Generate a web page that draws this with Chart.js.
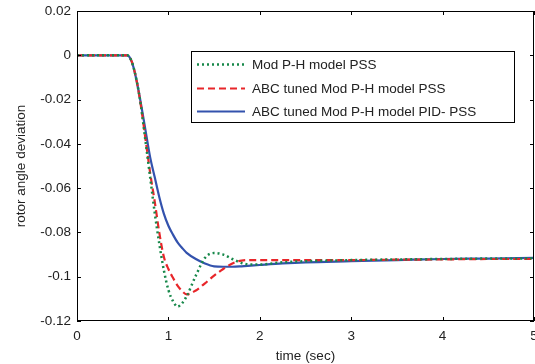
<!DOCTYPE html>
<html>
<head>
<meta charset="utf-8">
<script src="https://cdn.jsdelivr.net/npm/chart.js@4.4.1/dist/chart.umd.min.js"></script>
<style>
  html, body { margin: 0; padding: 0; background: #fff; }
  #wrap { width: 535px; height: 364px; }
</style>
</head>
<body>
<div id="wrap"><canvas id="c" width="535" height="364"></canvas></div>
<script>
// time axis (sec)
const timeSec = [0, 0.5, 0.55, 0.6, 0.65, 0.7, 0.75, 0.8, 0.85, 0.9, 0.95, 1.0, 1.05, 1.1, 1.15, 1.2,
  1.3, 1.4, 1.5, 1.6, 1.7, 1.8, 1.9, 2.0, 2.25, 2.5, 3, 3.5, 4, 4.5, 5];

// Mod P-H model PSS
const modPH = [0, 0, 0, -0.003, -0.011, -0.023, -0.039, -0.055, -0.071, -0.085, -0.097, -0.106, -0.111, -0.1135, -0.112, -0.1088,
  -0.0995, -0.0915, -0.0893, -0.09, -0.092, -0.0938, -0.0945, -0.0945, -0.0935, -0.093, -0.0925, -0.0922, -0.092, -0.0918, -0.0917];

// ABC tuned Mod P-H model PSS
const abcPH = [0, 0, 0, -0.003, -0.011, -0.023, -0.038, -0.053, -0.066, -0.08, -0.091, -0.0965, -0.1005, -0.104, -0.1065, -0.108,
  -0.1062, -0.103, -0.0995, -0.0965, -0.094, -0.0927, -0.0925, -0.0925, -0.0925, -0.0925, -0.0925, -0.0923, -0.0922, -0.092, -0.092];

// ABC tuned Mod P-H model PID- PSS
const abcPID = [0, 0, 0, -0.003, -0.011, -0.022, -0.034, -0.046, -0.055, -0.064, -0.0715, -0.077, -0.081, -0.0845, -0.087, -0.0892,
  -0.092, -0.094, -0.0953, -0.0955, -0.0955, -0.0953, -0.095, -0.0947, -0.094, -0.0935, -0.093, -0.0925, -0.092, -0.0918, -0.0915];

const seriesLabels = ['Mod P-H model PSS', 'ABC tuned Mod P-H model PSS', 'ABC tuned Mod P-H model PID- PSS'];

const FONT = '"Liberation Sans", Arial, sans-serif';

function pts(vals) {
  return timeSec.map((t, i) => ({ x: t, y: vals[i] }));
}

// matlab style box, inward ticks and legend
const matlabFrame = {
  id: 'matlabFrame',
  afterDatasetsDraw(chart) {
    const ctx = chart.ctx;
    const a = chart.chartArea;
    const xs = chart.scales.x, ys = chart.scales.y;
    ctx.save();
    ctx.strokeStyle = '#000';
    ctx.lineWidth = 1;
    ctx.beginPath();
    xs.ticks.forEach(t => {
      const px = Math.round(xs.getPixelForValue(t.value)) + 0.5;
      ctx.moveTo(px, a.bottom); ctx.lineTo(px, a.bottom - 4);
      ctx.moveTo(px, a.top); ctx.lineTo(px, a.top + 4);
    });
    ys.ticks.forEach(t => {
      const py = Math.round(ys.getPixelForValue(t.value)) + 0.5;
      ctx.moveTo(a.left, py); ctx.lineTo(a.left + 4, py);
      ctx.moveTo(a.right, py); ctx.lineTo(a.right - 4, py);
    });
    ctx.stroke();
    ctx.strokeRect(Math.round(a.left) + 0.5, Math.round(a.top) + 0.5,
      Math.round(a.right - a.left) - 1, Math.round(a.bottom - a.top) - 1);

    // legend
    const bx = 191, by = 51, bw = 323, bh = 71;
    ctx.fillStyle = '#fff';
    ctx.fillRect(bx, by, bw, bh);
    ctx.strokeRect(bx + 0.5, by + 0.5, bw, bh);
    ctx.font = '13.5px ' + FONT;
    ctx.textBaseline = 'middle';
    const rows = [64, 88, 111];
    chart.data.datasets.forEach((ds, i) => {
      const y = rows[i] + 0.5;
      ctx.strokeStyle = ds.borderColor;
      ctx.lineWidth = ds.borderWidth;
      ctx.setLineDash(ds.borderDash || []);
      ctx.beginPath();
      ctx.moveTo(197, y); ctx.lineTo(245, y);
      ctx.stroke();
      ctx.setLineDash([]);
      ctx.fillStyle = '#222';
      ctx.fillText(ds.label, 252, rows[i] + 1);
    });
    ctx.restore();
  }
};

new Chart(document.getElementById('c'), {
  type: 'line',
  data: {
    datasets: [
      { label: seriesLabels[0], data: pts(modPH), borderColor: '#17884a', borderWidth: 2.5, borderDash: [2, 3] },
      { label: seriesLabels[1], data: pts(abcPH), borderColor: '#e8262a', borderWidth: 2.2, borderDash: [7, 4] },
      { label: seriesLabels[2], data: pts(abcPID), borderColor: '#3352ad', borderWidth: 2.2 }
    ]
  },
  options: {
    responsive: false,
    animation: false,
    layout: { padding: { top: 11, right: 1, left: 0, bottom: 0 } },
    elements: {
      point: { radius: 0 },
      line: { cubicInterpolationMode: 'monotone', fill: false }
    },
    plugins: {
      legend: { display: false },
      tooltip: { enabled: false }
    },
    scales: {
      x: {
        type: 'linear',
        min: 0, max: 5,
        afterFit: s => { s.height = 43; s.paddingLeft = 0; s.paddingRight = 0; },
        grid: { display: false, drawTicks: false },
        border: { display: false },
        ticks: { stepSize: 1, padding: 7, color: '#222', font: { family: FONT, size: 13.5 } },
        title: { display: true, text: 'time (sec)', color: '#222', padding: { top: 2, bottom: 0 }, font: { family: FONT, size: 13.5 } }
      },
      y: {
        min: -0.12, max: 0.02,
        afterFit: s => { s.width = 77; s.paddingTop = 0; s.paddingBottom = 0; },
        grid: { display: false, drawTicks: false },
        border: { display: false },
        ticks: {
          stepSize: 0.02, padding: 6, color: '#222', font: { family: FONT, size: 13.5 },
          callback: v => String(Number(v.toFixed(2)))
        },
        title: { display: true, text: 'rotor angle deviation', color: '#222', padding: { top: 13, bottom: 4 }, font: { family: FONT, size: 13.5 } }
      }
    }
  },
  plugins: [matlabFrame]
});
</script>
</body>
</html>
